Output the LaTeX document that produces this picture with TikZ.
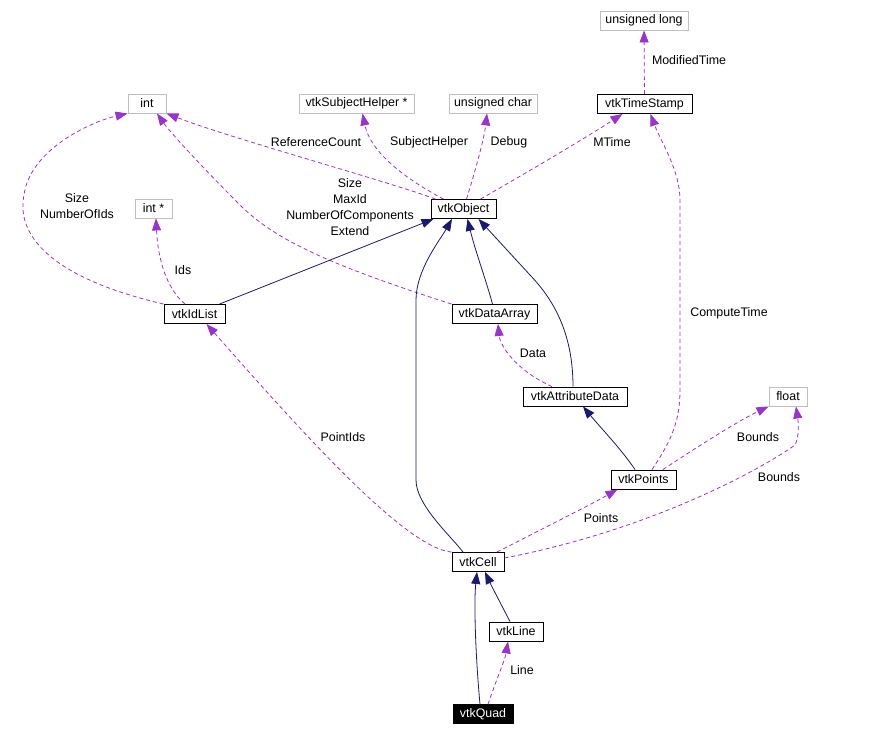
\documentclass[tikz,border=0pt]{standalone}
\usepackage{fontspec}
\setmainfont{Liberation Sans}
\usepackage{tikz}
\usetikzlibrary{arrows.meta, positioning}
\definecolor{usecol}{RGB}{154,50,205}
\definecolor{inhcol}{RGB}{25,25,112}
\definecolor{extcol}{RGB}{191,191,191}

\begin{document}
\begin{tikzpicture}[x=1pt, y=-1pt, font=\fontsize{12.4}{16}\selectfont,
		cls/.style={draw=black, line width=0.9pt, rectangle, inner sep=0pt, minimum height=19pt},
		ext/.style={draw=extcol, line width=0.9pt, rectangle, inner sep=0pt, minimum height=19pt},
		leaf/.style={draw=black, fill=black, text=white, rectangle, inner sep=0pt, minimum height=19pt},
		lbl/.style={inner sep=0pt, align=center},
		uses/.style={usecol, line width=0.8pt, dash pattern=on 4pt off 3pt, -{Triangle[length=12pt, width=9pt]}},
		inherits/.style={inhcol, line width=0.8pt, -{Triangle[length=12pt, width=9pt]}}
		]
		\useasboundingbox (0,0) rectangle (892,736);
		
		\node [ext, minimum width=88pt](ulong) at (644,20.5) {unsigned long};
		\node [cls, minimum width=95pt](timestamp) at (644.5,104) {vtkTimeStamp};
		\node [ext, minimum width=38pt](intA) at (147,103.5) {int};
		\node [ext, minimum width=115pt](helper) at (356.5,103.5) {vtkSubjectHelper *};
		\node [ext, minimum width=88pt](uchar) at (493,103.5) {unsigned char};
		\node [cls, minimum width=65pt](object) at (463.5,209) {vtkObject};
		\node [ext, minimum width=37pt](intptr) at (153.5,208.5) {int *};
		
		\node [cls, minimum width=61pt](idlist) at (194.5,314) {vtkIdList};
		\node [cls, minimum width=85pt](dataarray) at (494.5,314) {vtkDataArray};
		\node [cls, minimum width=104pt](attrdata) at (575,396.5) {vtkAttributeData};
		\node [ext, minimum width=38pt](float) at (788,396.5) {float};
		\node [cls, minimum width=65pt](points) at (643.5,479.5) {vtkPoints};
		
		\node [cls, minimum width=52pt](cell) at (478,562) {vtkCell};
		\node [cls, minimum width=54pt](line) at (516,631.5) {vtkLine};
		\node [leaf, minimum width=60pt](quad) at (483,714) {vtkQuad};
		
		\node [lbl](l-refcount) at (316,142) {ReferenceCount};
		\node [lbl](l-helper) at (429,142) {SubjectHelper};
		\node [lbl](l-debug) at (509,142) {Debug};
		\node [lbl](l-mtime) at (612,142) {MTime};
		\node [lbl](l-modtime) at (689,60) {ModifiedTime};
		\node [lbl](l-idsize) at (77,206) {Size\\NumberOfIds};
		\node [lbl](l-ids) at (183,270) {Ids};
		\node [lbl](l-arrsize) at (350,207) {Size\\MaxId\\NumberOfComponents\\Extend};
		\node [lbl](l-data) at (533,353) {Data};
		\node [lbl](l-comptime) at (729,313) {ComputeTime};
		\node [lbl](l-bounds1) at (758,437) {Bounds};
		\node [lbl](l-bounds2) at (779,477) {Bounds};
		\node [lbl](l-points) at (601,518) {Points};
		\node [lbl](l-pointids) at (343,437) {PointIds};
		\node [lbl](l-line) at (522,670) {Line};
		
		\draw[uses] ([xshift=-28]object.north) .. controls (390,182) and (230,138) .. (intA.south east);
		\draw[uses] ([xshift=-20]object.north) .. controls (400,176) and (370,150) .. ([xshift=6]helper.south);
		\draw[uses] ([xshift=3]object.north) .. controls (474,175) and (484,140) .. ([xshift=-6]uchar.south);
		\draw[uses] ([xshift=17]object.north) .. controls (540,165) and (590,135) .. ([xshift=-22]timestamp.south);
		\draw[uses] (timestamp) -- (ulong);
		
		\draw[uses] (idlist.north west) .. controls (60,280) and (15,240) .. (24,195) .. controls (30,150) and (90,122) .. (intA.south west);
		\draw[uses] ([xshift=-9.5]idlist.north) .. controls (168,290) and (158,262) .. ([xshift=2.5]intptr.south);
		\draw[uses] (dataarray.north west) .. controls (330,265) and (275,240) .. (240,205) .. controls (200,165) and (170,132) .. ([xshift=10]intA.south);
		\draw[uses] ([xshift=-23]attrdata.north) .. controls (515,370) and (500,345) .. ([xshift=3.5]dataarray.south);
		\draw[uses] ([xshift=8.5]points.north) .. controls (672,440) and (680,420) .. (680,390) -- (680,200) .. controls (680,170) and (660,140) .. ([xshift=6]timestamp.south);
		\draw[uses] ([xshift=19.5]points.north) .. controls (700,445) and (740,420) .. (float.south west);
		\draw[uses] ([yshift=4]cell.east) .. controls (650,530) and (760,470) .. (795,445) .. controls (800,435) and (798,420) .. ([xshift=8]float.south);
		\draw[uses] ([xshift=19]cell.north) .. controls (540,530) and (590,505) .. ([xshift=-26]points.south);
		\draw[uses] (cell.north west) .. controls (405,548) and (300,430) .. ([xshift=12]idlist.south);
		\draw[uses] ([xshift=5]quad.north) .. controls (495,683) and (505,660) .. ([xshift=-8]line.south);
		
		\draw[inherits] ([xshift=25]idlist.north) -- ([xshift=-30]object.south);
		\draw[inherits] ([xshift=-2]dataarray.north) .. controls (486,280) and (475,250) .. ([xshift=4]object.south);
		\draw[inherits] ([xshift=-15]cell.north) .. controls (450,535) and (416,505) .. (416,480) -- (416,300) .. controls (416,270) and (440,240) .. ([xshift=-11.5]object.south);
		\draw[inherits] ([xshift=-2]attrdata.north) .. controls (573,330) and (551,297) .. (530,275) -- ([xshift=15]object.south);
		\draw[inherits] ([xshift=-8.5]points.north) .. controls (622,450) and (600,427) .. ([xshift=8]attrdata.south);
		\draw[inherits] ([xshift=-6]line.north) .. controls (503,608) and (492,587) .. ([xshift=7]cell.south);
		\draw[inherits] ([xshift=-3]quad.north) .. controls (475,650) and (474,600) .. ([xshift=-1]cell.south);
		
	\end{tikzpicture}
\end{document}
